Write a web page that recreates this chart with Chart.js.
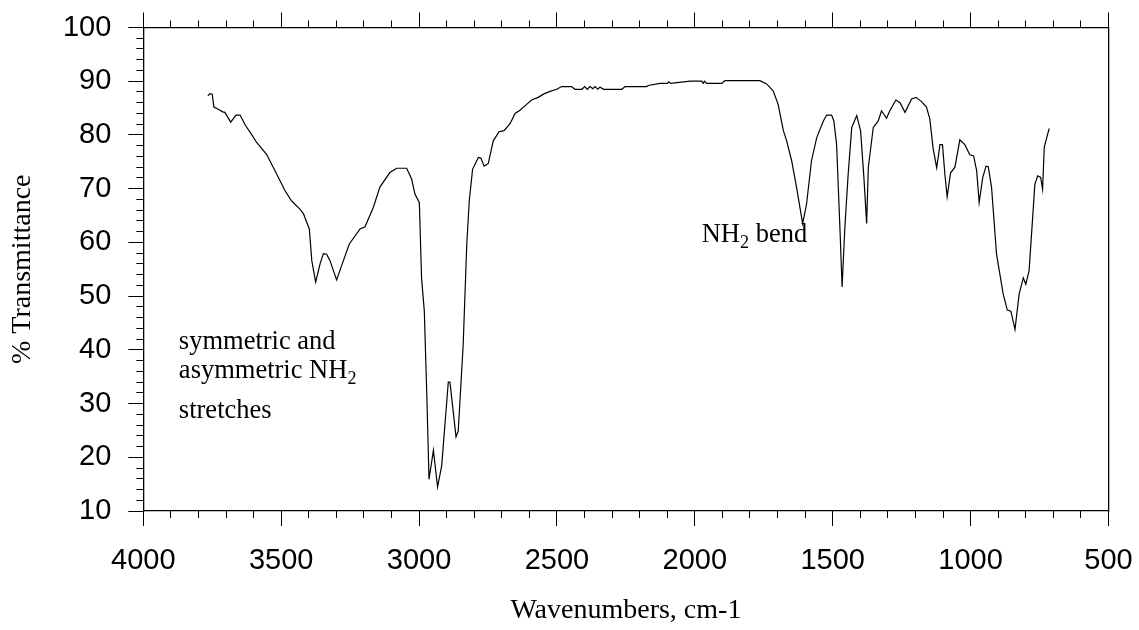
<!DOCTYPE html>
<html>
<head>
  <meta charset="UTF-8"/>
  <title>IR spectrum</title>
  <style>
    body { margin: 0; background: #fff; }
    #wrap { width: 1139px; height: 630px; }
  </style>
  <script src="https://cdn.jsdelivr.net/npm/chart.js"></script>
</head>
<body>
  <div id="wrap"><canvas id="myChart" width="1139" height="630"></canvas></div>
  <script>
    // spectrum (cm-1 / % transmittance)
    const wavenumbers = [
      3766, 3758, 3750, 3744, 3728, 3712, 3704, 3683, 3664, 3649, 3631, 3610, 3589, 3553, 3516, 3486,
      3462, 3432, 3419, 3398, 3389, 3375, 3359, 3347, 3335, 3323, 3299, 3287, 3253, 3214, 3196, 3166,
      3142, 3106, 3081, 3045, 3027, 3015, 2999, 2991, 2981, 2972, 2964, 2948, 2933, 2918, 2894, 2888,
      2866, 2858, 2840, 2827, 2818, 2806, 2785, 2776, 2764, 2749, 2731, 2710, 2692, 2670, 2652, 2634,
      2610, 2592, 2568, 2549, 2525, 2501, 2483, 2447, 2435, 2410, 2399, 2390, 2380, 2370, 2362, 2352,
      2344, 2330, 2265, 2253, 2175, 2169, 2127, 2100, 2095, 2088, 2017, 1975, 1970, 1965, 1957, 1903,
      1891, 1764, 1740, 1716, 1698, 1679, 1667, 1649, 1631, 1609, 1595, 1577, 1558, 1534, 1522, 1504,
      1496, 1486, 1474, 1466, 1456, 1444, 1431, 1413, 1399, 1387, 1377, 1371, 1353, 1335, 1323, 1305,
      1293, 1271, 1256, 1238, 1214, 1198, 1178, 1160, 1148, 1136, 1123, 1111, 1102, 1093, 1085, 1073,
      1057, 1039, 1021, 1003, 989, 978, 969, 956, 944, 936, 924, 906, 882, 867, 854, 839,
      824, 809, 800, 788, 767, 757, 746, 739, 733, 724, 715
    ];
    const transmittance = [
      87.3, 87.7, 87.6, 85.2, 84.8, 84.3, 84.2, 82.4, 83.7, 83.7, 81.9, 80.3, 78.6, 76.4, 72.7, 69.6,
      67.7, 66.2, 65.3, 62.5, 56.6, 52.6, 56.0, 57.9, 57.8, 56.6, 53.0, 54.8, 59.7, 62.5, 62.9, 66.5,
      70.3, 73.0, 73.8, 73.8, 71.8, 69.0, 67.4, 53.4, 47.2, 31.7, 15.9, 21.3, 14.5, 18.4, 34.0, 34.0,
      23.8, 24.9, 41.0, 59.7, 67.7, 73.6, 75.8, 75.7, 74.2, 74.7, 78.9, 80.6, 80.8, 82.1, 84.0, 84.6,
      85.7, 86.5, 87.0, 87.6, 88.1, 88.5, 89.0, 89.0, 88.5, 88.5, 89.0, 88.5, 89.0, 88.6, 89.0, 88.5,
      88.9, 88.5, 88.5, 89.0, 89.0, 89.2, 89.6, 89.6, 89.9, 89.6, 90.0, 90.0, 89.6, 90.0, 89.6, 89.6,
      90.1, 90.1, 89.5, 88.2, 85.7, 80.8, 78.9, 75.2, 70.2, 63.5, 67.1, 75.2, 79.5, 82.6, 83.7, 83.7,
      82.6, 78.3, 62.8, 51.7, 62.8, 72.7, 81.4, 83.6, 80.8, 72.1, 63.5, 73.9, 81.4, 82.6, 84.5, 83.1,
      84.5, 86.5, 86.0, 84.2, 86.7, 87.0, 86.2, 85.2, 83.0, 77.5, 73.9, 78.2, 78.2, 72.5, 68.5, 72.9,
      74.0, 79.1, 78.2, 76.3, 76.1, 73.3, 67.4, 72.1, 74.2, 74.1, 70.2, 57.8, 50.4, 47.4, 47.2, 43.8,
      50.4, 53.4, 52.2, 54.7, 70.8, 72.4, 72.1, 69.9, 77.7, 79.5, 81.2
    ];
    const xTicks = [4000, 3500, 3000, 2500, 2000, 1500, 1000, 500];
    const yTicks = [10, 20, 30, 40, 50, 60, 70, 80, 90, 100];
    const stretchNote = ['symmetric and', 'asymmetric NH', 'stretches'];
    const bendNote = 'NH';

    const tickFont = { family: 'Liberation Sans, Arial', size: 29 };
    const titleFont = { family: 'Liberation Serif, Times New Roman', size: 28 };
    const noteFont = '26.5px "Liberation Serif"';
    const subFont = '18px "Liberation Serif"';

    // axis helpers: outward ticks only, no grid in the plot
    function axis(pos, opts) {
      return Object.assign({
        type: 'linear',
        position: pos,
        grid: { drawOnChartArea: false, color: '#000', tickColor: '#000', tickWidth: 1, tickLength: 15 },
        border: { display: true, color: '#000', width: 1.3 },
        ticks: { display: false }
      }, opts);
    }
    function noPad(s) {
      s.paddingTop = 0; s.paddingBottom = 0; s.paddingLeft = 0; s.paddingRight = 0;
    }
    const zeroH = s => { s.height = 0; noPad(s); };
    const zeroW = s => { s.width = 0; noPad(s); };

    // text notes, placed with the chart's own scales
    const notes = {
      id: 'notes',
      afterDatasetsDraw(chart) {
        const c = chart.ctx, xs = chart.scales.x, ys = chart.scales.y;
        c.save();
        c.fillStyle = '#000';
        c.textBaseline = 'alphabetic';
        function sub(main, x, y) {
          c.font = noteFont;
          c.fillText(main, x, y);
          const w = c.measureText(main).width;
          c.font = subFont;
          c.fillText('2', x + w, y + 6);
          return x + w + c.measureText('2').width;
        }
        const x0 = xs.getPixelForValue(3871);
        c.font = noteFont;
        c.fillText(stretchNote[0], x0, ys.getPixelForValue(40.15));
        sub(stretchNote[1], x0, ys.getPixelForValue(34.75));
        c.font = noteFont;
        c.fillText(stretchNote[2], x0, ys.getPixelForValue(27.3));
        const bx = sub(bendNote, xs.getPixelForValue(1975), ys.getPixelForValue(60.1));
        c.font = noteFont;
        c.fillText(' bend', bx, ys.getPixelForValue(60.1));
        c.restore();
      }
    };

    const ctx = document.getElementById('myChart').getContext('2d');
    new Chart(ctx, {
      type: 'line',
      data: {
        datasets: [{
          data: wavenumbers.map((w, i) => ({ x: w, y: transmittance[i] })),
          borderColor: '#000',
          borderWidth: 1.2,
          pointRadius: 0,
          tension: 0,
          fill: false
        }]
      },
      options: {
        responsive: false,
        animation: false,
        layout: { padding: { left: 0, right: 30.5, top: 27.5, bottom: 0 } },
        plugins: { legend: { display: false }, tooltip: { enabled: false } },
        scales: {
          x: axis('bottom', {
            min: 500, max: 4000, reverse: true, weight: 1,
            afterBuildTicks: s => { s.ticks = xTicks.map(v => ({ value: v })); },
            afterFit: s => { s.height = 119; noPad(s); },
            ticks: { display: true, color: '#000', font: tickFont, padding: 18, maxRotation: 0, autoSkip: false,
                     callback: v => String(v) },
            title: { display: true, text: 'Wavenumbers, cm-1', color: '#000', font: titleFont, padding: { bottom: 3 } }
          }),
          xMinor: axis('bottom', {
            min: 500, max: 4000, reverse: true, weight: 0,
            ticks: { display: false, stepSize: 100 },
            grid: { drawOnChartArea: false, tickColor: '#000', tickLength: 7 },
            border: { display: false },
            afterFit: zeroH
          }),
          xTop: axis('top', {
            min: 500, max: 4000, reverse: true, weight: 1,
            afterBuildTicks: s => { s.ticks = xTicks.map(v => ({ value: v })); },
            afterFit: zeroH
          }),
          xTopMinor: axis('top', {
            min: 500, max: 4000, reverse: true, weight: 0,
            ticks: { display: false, stepSize: 100 },
            grid: { drawOnChartArea: false, tickColor: '#000', tickLength: 7 },
            border: { display: false },
            afterFit: zeroH
          }),
          y: axis('left', {
            min: 10, max: 100, weight: 1,
            afterBuildTicks: s => { s.ticks = yTicks.map(v => ({ value: v })); },
            afterFit: s => { s.width = 143.3; noPad(s); },
            ticks: { display: true, color: '#000', font: tickFont, padding: 17, callback: v => String(v) },
            title: { display: true, text: '% Transmittance', color: '#000', font: titleFont, padding: { top: 6 } }
          }),
          yMinor: axis('left', {
            min: 10, max: 100, weight: 0,
            ticks: { display: false, stepSize: 2 },
            grid: { drawOnChartArea: false, tickColor: '#000', tickLength: 7 },
            border: { display: false },
            afterFit: zeroW
          }),
          yRight: axis('right', {
            min: 10, max: 100,
            grid: { drawOnChartArea: false, drawTicks: false },
            afterFit: zeroW
          })
        }
      },
      plugins: [notes]
    });
  </script>
</body>
</html>
